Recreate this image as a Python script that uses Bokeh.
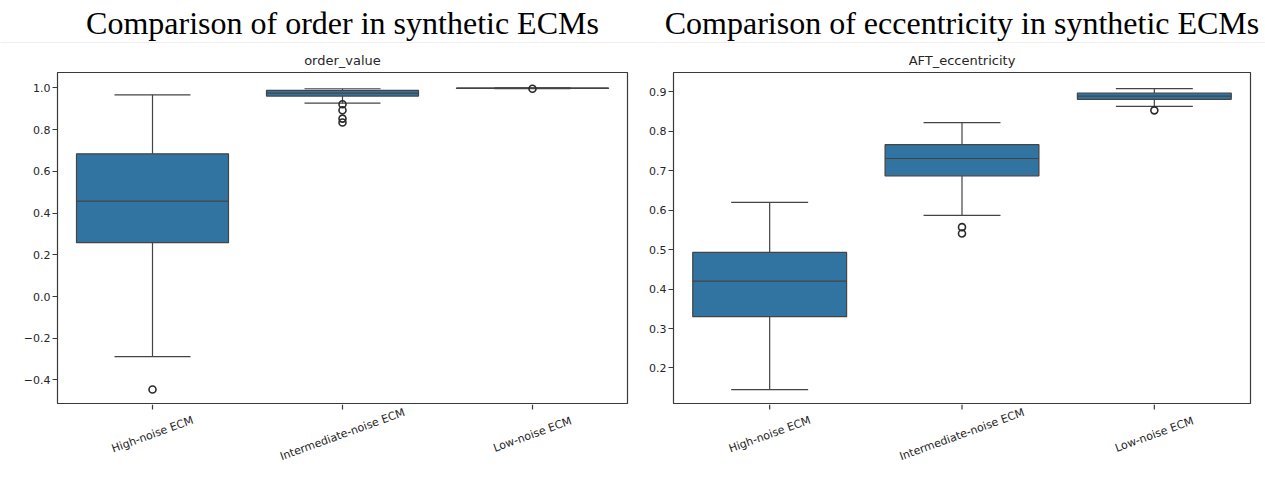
import math
from bokeh.plotting import figure
from bokeh.layouts import row, column
from bokeh.models import FactorRange, Range1d, FixedTicker, ColumnDataSource, Span
from bokeh.core.properties import value
from bokeh.transform import dodge
from bokeh.embed import file_html
from bokeh.resources import INLINE

# ---------------- data ----------------
categories = ["High-noise ECM", "Intermediate-noise ECM", "Low-noise ECM"]

order_lower = [-0.288, 0.927, 0.997]
order_q1 = [0.258, 0.961, 0.9975]
order_median = [0.457, 0.975, 0.999]
order_q3 = [0.684, 0.988, 0.9995]
order_upper = [0.967, 0.996, 1.0]
order_outlier_cat = ["High-noise ECM", "Intermediate-noise ECM", "Intermediate-noise ECM",
                     "Intermediate-noise ECM", "Intermediate-noise ECM", "Low-noise ECM"]
order_outlier_val = [-0.446, 0.922, 0.893, 0.853, 0.834, 0.996]
order_yticks = [-0.4, -0.2, 0.0, 0.2, 0.4, 0.6, 0.8, 1.0]
order_ytick_labels = ["\u22120.4", "\u22120.2", "0.0", "0.2", "0.4", "0.6", "0.8", "1.0"]
order_ylim = (-0.513, 1.074)

ecc_lower = [0.145, 0.587, 0.863]
ecc_q1 = [0.330, 0.687, 0.881]
ecc_median = [0.420, 0.731, 0.889]
ecc_q3 = [0.493, 0.766, 0.897]
ecc_upper = [0.620, 0.822, 0.908]
ecc_outlier_cat = ["Intermediate-noise ECM", "Intermediate-noise ECM", "Low-noise ECM"]
ecc_outlier_val = [0.557, 0.541, 0.853]
ecc_yticks = [0.2, 0.3, 0.4, 0.5, 0.6, 0.7, 0.8, 0.9]
ecc_ytick_labels = ["0.2", "0.3", "0.4", "0.5", "0.6", "0.7", "0.8", "0.9"]
ecc_ylim = (0.110, 0.949)

headings = ["Comparison of order in synthetic ECMs", "Comparison of eccentricity in synthetic ECMs"]

# ---------------- style / layout ----------------
BOX_FILL = "#3274a1"
LINE = "#444444"
TEXT = "#262626"
TICK_FONT = "DejaVu Sans"
TOTAL_W = 1265
TITLE_H = 43      # band holding the big serif headings
HEAD_Y = 21       # heading text position inside that band
SUB_TOP = 29      # space above the frame for the small title
FRAME_H = 331
LABEL_H = 77      # band holding the rotated category labels
PANELS = [(570, 57, 13), (577, 33, 15)]   # frame width, left border, right border


def bare(fig):
    fig.xgrid.visible = False
    fig.ygrid.visible = False
    fig.outline_line_color = None
    fig.background_fill_color = None
    fig.border_fill_color = None
    return fig


def make_panel(sub_title, lower, q1, med, q3, upper, out_cat, out_val,
               yticks, ylabels, ylim, fw, bl, br):
    xr = FactorRange(factors=categories, range_padding=0)

    p = figure(x_range=xr, y_range=Range1d(*ylim),
               frame_width=fw, frame_height=FRAME_H,
               min_border_left=bl, min_border_right=br,
               min_border_top=SUB_TOP, min_border_bottom=1,
               x_axis_location=None,
               output_backend="svg", toolbar_location=None,
               title=sub_title)
    p.title.align = "center"
    p.title.text_font = "DejaVu Sans"
    p.title.text_font_size = "13px"
    p.title.text_font_style = "normal"
    p.title.text_color = TEXT
    p.title.standoff = 9

    src = ColumnDataSource(dict(cat=categories, lower=lower, q1=q1, med=med, q3=q3, upper=upper))
    p.segment(x0="cat", y0="upper", x1="cat", y1="q3", source=src, line_color=LINE, line_width=1.2)
    p.segment(x0="cat", y0="lower", x1="cat", y1="q1", source=src, line_color=LINE, line_width=1.2)
    p.vbar(x="cat", width=0.8, bottom="q1", top="q3", source=src,
           fill_color=BOX_FILL, line_color=LINE, line_width=1.2)
    p.segment(x0=dodge("cat", -0.4, range=xr), y0="med",
              x1=dodge("cat", 0.4, range=xr), y1="med",
              source=src, line_color=LINE, line_width=1.2)
    p.segment(x0=dodge("cat", -0.2, range=xr), y0="upper",
              x1=dodge("cat", 0.2, range=xr), y1="upper",
              source=src, line_color=LINE, line_width=1.2)
    p.segment(x0=dodge("cat", -0.2, range=xr), y0="lower",
              x1=dodge("cat", 0.2, range=xr), y1="lower",
              source=src, line_color=LINE, line_width=1.2)
    osrc = ColumnDataSource(dict(cat=out_cat, val=out_val))
    p.scatter(x="cat", y="val", source=osrc, marker="circle", size=7,
              fill_color=None, line_color="#2a2a2a", line_width=1.6)

    p.xgrid.visible = False
    p.ygrid.visible = False
    p.outline_line_color = "#3a3a3a"
    p.outline_line_width = 1.2

    p.yaxis.ticker = FixedTicker(ticks=yticks)
    p.yaxis.major_label_overrides = {tk: lb for tk, lb in zip(yticks, ylabels)}
    ax = p.yaxis
    ax.axis_line_color = None
    ax.major_tick_in = 0
    ax.major_tick_out = 5
    ax.major_tick_line_color = "#3a3a3a"
    ax.minor_tick_line_color = None
    ax.major_label_text_font = TICK_FONT
    ax.major_label_text_font_size = "11px"
    ax.major_label_text_color = TEXT
    ax.major_label_standoff = 2

    # ---- category tick marks and rotated labels ----
    lab = bare(figure(x_range=xr, y_range=Range1d(0, LABEL_H),
                      frame_width=fw, frame_height=LABEL_H,
                      min_border_left=bl, min_border_right=br, min_border_top=0, min_border_bottom=0,
                      x_axis_location=None, y_axis_location=None,
                      output_backend="svg", toolbar_location=None))
    lsrc = ColumnDataSource(dict(cat=categories, text=categories,
                                 top=[LABEL_H] * len(categories),
                                 tick=[LABEL_H - 5] * len(categories),
                                 ty=[LABEL_H - 30] * len(categories)))
    lab.segment(x0="cat", y0="top", x1="cat", y1="tick", source=lsrc,
                line_color="#3a3a3a", line_width=1.2)
    lab.text(x="cat", y="ty", text="text", source=lsrc, angle=math.radians(20),
             text_align="center", text_baseline="middle",
             text_font=value(TICK_FONT), text_font_size="11px", text_color=TEXT)

    return column(p, lab)


# ---- heading band across both panels ----
head = bare(figure(x_range=Range1d(0, TOTAL_W), y_range=Range1d(0, TITLE_H),
                   frame_width=TOTAL_W, frame_height=TITLE_H,
                   min_border_left=0, min_border_right=0, min_border_top=0, min_border_bottom=0,
                   x_axis_location=None, y_axis_location=None,
                   output_backend="svg", toolbar_location=None))
centres = []
x0 = 0
for fw, bl, br in PANELS:
    centres.append(x0 + bl + fw / 2)
    x0 += bl + fw + br
head.text(x=centres, y=[HEAD_Y] * len(centres), text=headings,
          text_font=value("Liberation Serif"), text_font_size="32px",
          text_align="center", text_baseline="alphabetic", text_color="#000000")
head.add_layout(Span(location=0.6, dimension="width", line_color="#e4e4e4", line_width=1))

c1 = make_panel("order_value",
                order_lower, order_q1, order_median, order_q3, order_upper,
                order_outlier_cat, order_outlier_val,
                order_yticks, order_ytick_labels, order_ylim, *PANELS[0])
c2 = make_panel("AFT_eccentricity",
                ecc_lower, ecc_q1, ecc_median, ecc_q3, ecc_upper,
                ecc_outlier_cat, ecc_outlier_val,
                ecc_yticks, ecc_ytick_labels, ecc_ylim, *PANELS[1])

layout = column(head, row(c1, c2))
open("out.html", "w").write(file_html(layout, INLINE))
